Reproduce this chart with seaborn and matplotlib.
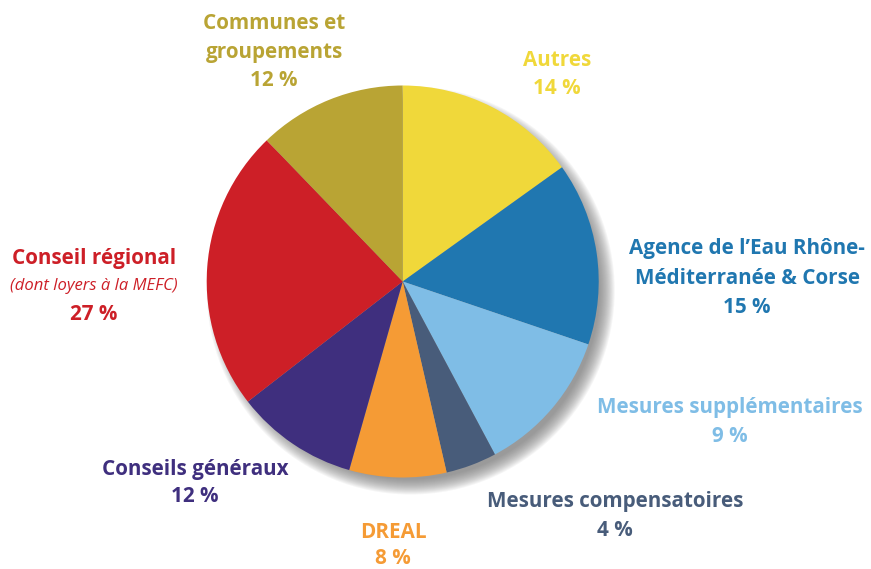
import matplotlib
matplotlib.use("Agg")
import matplotlib.pyplot as plt
from matplotlib.patches import Circle
import seaborn as sns

sns.set_theme(style="white")
plt.rcParams['font.family'] = ['Open Sans', 'DejaVu Sans']

# Data (shares as drawn, clockwise from 12 o'clock)
categories = ["Autres", "Agence de l'Eau", "Mesures supplémentaires", "Mesures compensatoires",
              "DREAL", "Conseils généraux", "Conseil régional", "Communes et groupements"]
shares = [15.1, 15.1, 12.0, 4.2, 8.0, 10.1, 23.3, 12.2]
label_pct = ["14 %", "15 %", "9 %", "4 %", "8 %", "12 %", "27 %", "12 %"]
colors = ["#F0D83A", "#2077B0", "#7FBDE6", "#485C7A", "#F59B35", "#3F2F7E", "#CD1F27", "#B9A434"]

W, H = 871, 569
fig = plt.figure(figsize=(W / 100, H / 100), dpi=100)
ax = fig.add_axes([0, 0, 1, 1])

cx, cy, R = 402.7, H - 281.5, 196

# soft shadow
for k in range(16):
    ax.add_patch(Circle((cx + 8, cy - 9), R + 8 - k, color="#707070", alpha=0.065, lw=0, zorder=0))

ax.pie(shares, colors=colors, startangle=90, counterclock=False,
       center=(cx, cy), radius=R, frame=True,
       wedgeprops=dict(linewidth=0, edgecolor="none", zorder=2))
ax.set_xlim(0, W)
ax.set_ylim(0, H)
ax.set_aspect("equal")
ax.axis("off")

fs = 14.9
def lab(x, y, lines, color, styles=None):
    for i, (ty, t) in enumerate(zip(y, lines)):
        if styles and styles[i] == "italic":
            ax.text(x, H - ty, t, color=color, ha="center", va="center",
                    fontsize=12, fontstyle="italic", zorder=5)
        else:
            ax.text(x, H - ty, t, color=color, ha="center", va="center",
                    fontsize=fs, fontweight="bold", zorder=5)

lab(274, [23, 52, 80], ["Communes et", "groupements", label_pct[7]], colors[7])
lab(557, [60, 88], [categories[0], label_pct[0]], colors[0])
lab(747, [248, 278, 307], ["Agence de l\u2019Eau Rhône-", "Méditerranée & Corse", label_pct[1]], colors[1])
lab(730, [408, 437], [categories[2], label_pct[2]], colors[2])
lab(615, [502, 530], [categories[3], label_pct[3]], colors[3])
lab(393, [532, 559], [categories[4], label_pct[4]], colors[4])
lab(195, [470, 497], [categories[5], label_pct[5]], colors[5])
lab(94, [258, 286, 314], [categories[6], "(dont loyers à la MEFC)", label_pct[6]], colors[6],
    styles=["normal", "italic", "normal"])

fig.savefig("out.png", dpi=100, facecolor="white")
